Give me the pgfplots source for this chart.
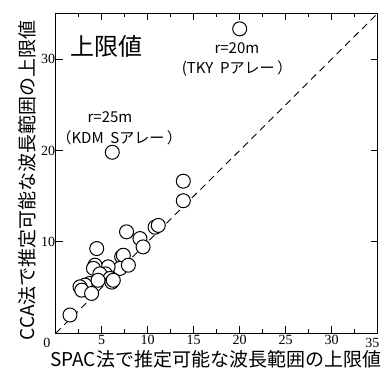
\documentclass[border=0pt]{standalone}
\usepackage{pgfplots}
\pgfplotsset{compat=1.18}
\usepackage{fontspec}
\setmainfont{Liberation Serif}
\newfontfamily\jp{Noto Sans CJK JP}
\begin{document}
\begin{tikzpicture}
\begin{axis}[
  at={(0pt,0pt)}, anchor=south west,
  scale only axis, width=322pt, height=320pt,
  xmin=0, xmax=35, ymin=0, ymax=35,
  xtick={5,10,...,35}, minor xtick={2.5,7.5,...,32.5},
  xticklabels={5,10,15,20,25,30,},
  ytick={10,20,30},
  tick align=inside, major tick length=7pt, minor tick length=4pt,
  every tick/.style={black, line width=0.9pt},
  axis line style={line width=1.2pt},
  /pgf/number format/assume math mode=true,
  ticklabel style={font=\fontsize{14}{14}\selectfont},
  xticklabel style={yshift=2pt},
  yticklabel style={xshift=3pt},
  clip=false,
]
\addplot[only marks, mark=*, mark size=7pt, mark options={fill=white, draw=black, line width=1pt}] table {
x y
20.0 33.3
6.15 19.8
13.87 16.64
13.87 14.5
7.7 11.1
9.16 10.36
10.8 11.6
11.15 11.8
9.5 9.45
4.46 9.27
7.17 8.36
7.35 8.54
7.0 7.1
7.9 7.45
5.7 7.27
4.27 7.45
4.1 7.1
5.4 6.5
4.8 6.5
5.9 6.0
6.1 5.6
6.26 5.8
3.7 5.45
3.2 5.27
2.64 5.08
2.83 4.72
3.9 4.36
4.6 5.8
1.55 2.0
};
\addplot[black, line width=0.9pt, dash pattern=on 7pt off 5pt] coordinates {(0,0) (35,35)};
\node[font=\jp\fontsize{24}{24}\selectfont] at (axis cs:5.5,31.4) {上限値};
\node[font=\jp\fontsize{15}{15}\selectfont] at (axis cs:19.7,31.2) {r=20m};
\node[font=\jp\fontsize{15}{15}\selectfont] at (axis cs:19.7,29.0) {(TKY\ \ Pアレー\,）};
\node[font=\jp\fontsize{15}{15}\selectfont] at (axis cs:5.9,23.6) {r=25m};
\node[font=\jp\fontsize{15}{15}\selectfont] at (axis cs:6.9,21.4) {（KDM\ \ Sアレー\,）};
\node[font=\fontsize{14}{14}\selectfont, anchor=east] at (327.3pt,-10pt) {35};
\end{axis}
\node[font=\fontsize{14}{14}\selectfont] at (-8.7pt,-10pt) {0};
\node[font=\jp\fontsize{19}{19}\selectfont] at (160pt,-25.7pt) {SPAC法で推定可能な波長範囲の上限値};
\node[font=\jp\fontsize{19}{19}\selectfont, rotate=90] at (-28.7pt,153pt) {CCA法で推定可能な波長範囲の上限値};
\pgfresetboundingbox
\path[use as bounding box] (-55.7pt,-34.7pt) rectangle (327.3pt,333.3pt);
\end{tikzpicture}
\end{document}
